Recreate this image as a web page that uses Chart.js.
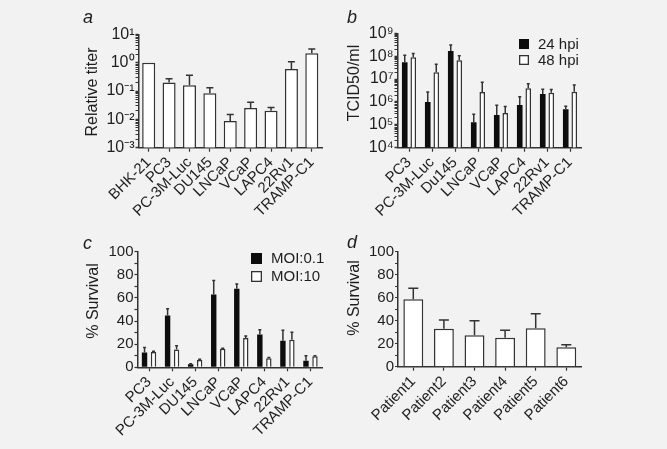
<!DOCTYPE html>
<html><head><meta charset="utf-8">
<script src="https://cdn.jsdelivr.net/npm/chart.js@4.4.0/dist/chart.umd.min.js"></script>
<style>
html,body{margin:0;padding:0;background:#f2f2f2;width:667px;height:449px;overflow:hidden}
canvas{position:absolute}
</style></head><body>
<canvas id="ca"></canvas><canvas id="cb"></canvas><canvas id="cc"></canvas><canvas id="cd"></canvas>
<script>
// ---- Panel a: relative titer (log) ----
const aCategories = ['BHK-21','PC3','PC-3M-Luc','DU145','LNCaP','VCaP','LAPC4','22Rv1','TRAMP-C1'];
const aValues     = [1.0, 0.20, 0.16, 0.083, 0.0088, 0.025, 0.020, 0.60, 2.15];
const aUpper      = [null, 0.27, 0.36, 0.13, 0.015, 0.040, 0.026, 1.08, 3.05];

// ---- Panel b: TCID50/ml (log) ----
const bCategories = ['PC3','PC-3M-Luc','Du145','LNCaP','VCaP','LAPC4','22Rv1','TRAMP-C1'];
const b24hpi      = [5.4e7, 1.0e6, 1.7e8, 1.3e5, 2.7e5, 7.4e5, 2.2e6, 4.8e5];
const b24Upper    = [1.1e8, 2.7e6, 3.1e8, 2.9e5, 7.2e5, 1.7e6, 3.6e6, 6.5e5];
const b48hpi      = [9.0e7, 2.0e7, 6.6e7, 2.7e6, 3.3e5, 4.0e6, 2.5e6, 2.8e6];
const b48Upper    = [1.3e8, 4.4e7, 1.05e8, 7.2e6, 6.3e5, 6.3e6, 3.5e6, 5.5e6];

// ---- Panel c: % survival by MOI ----
const cCategories = ['PC3','PC-3M-Luc','DU145','LNCaP','VCaP','LAPC4','22Rv1','TRAMP-C1'];
const cMoi01      = [12.9, 44.8, 2.6, 63, 68, 28.4, 23, 5.7];
const cMoi01Err   = [4.3, 5.8, 0.4, 12, 4, 4.1, 9, 4.3];
const cMoi10      = [13.2, 15.3, 6.3, 16, 25.3, 7.9, 23.8, 9.5];
const cMoi10Err   = [0.6, 3.4, 0.6, 0.5, 1.7, 0.5, 6.6, 0.5];

// ---- Panel d: % survival patients ----
const dCategories = ['Patient1','Patient2','Patient3','Patient4','Patient5','Patient6'];
const dValues     = [58.6, 33, 27.3, 25.2, 33.4, 16.9];
const dErr        = [9.6, 7.6, 12.7, 6.5, 12.6, 2.2];

const logTicksA = [-3, 1];
const logTicksB = [4, 9];
const linTicks  = [0, 100, 10, 20]; // min, max, minor step, labelled step

const FONT = "'Liberation Sans', Arial, Helvetica, sans-serif";
const INK = '#1e1e1e';
const AXIS = '#333';

function sup(n){const m={'-':'\u207B','0':'\u2070','1':'\u00B9','2':'\u00B2','3':'\u00B3','4':'\u2074','5':'\u2075','6':'\u2076','7':'\u2077','8':'\u2078','9':'\u2079'};return String(n).split('').map(c=>m[c]).join('');}

const errorBarsPlugin = {
  id:'errorBars',
  afterDatasetsDraw(chart, args, opts){
    const ctx = chart.ctx, y = chart.scales.y;
    ctx.save();
    ctx.strokeStyle = AXIS; ctx.lineWidth = 1.5;
    (opts.upper||[]).forEach((arr, di) => {
      const meta = chart.getDatasetMeta(di);
      arr.forEach((u, j) => {
        if (u == null) return;
        const el = meta.data[j];
        const yt = y.getPixelForValue(u);
        ctx.beginPath();
        ctx.moveTo(el.x, el.y); ctx.lineTo(el.x, yt);
        ctx.moveTo(el.x - opts.cap/2, yt); ctx.lineTo(el.x + opts.cap/2, yt);
        ctx.stroke();
      });
    });
    ctx.restore();
  }
};

const textsPlugin = {
  id:'texts',
  afterDraw(chart, args, opts){
    const ctx = chart.ctx;
    (opts.items||[]).forEach(t => {
      ctx.save();
      ctx.translate(t.x - opts.ox, t.y - opts.oy);
      if (t.rot) ctx.rotate(t.rot);
      ctx.font = t.font; ctx.fillStyle = INK;
      ctx.textAlign = t.align || 'left'; ctx.textBaseline = t.baseline || 'alphabetic';
      ctx.fillText(t.text, 0, 0);
      ctx.restore();
    });
  }
};

const boxLegendPlugin = {
  id:'boxLegend',
  afterDraw(chart, args, opts){
    if (!opts.x) return;
    const ctx = chart.ctx;
    chart.data.datasets.forEach((ds, i) => {
      const bx = opts.x - opts.ox, by = opts.y - opts.oy + i*opts.dy;
      ctx.save();
      ctx.fillStyle = ds.backgroundColor;
      ctx.fillRect(bx, by, opts.size, opts.size);
      if (ds.borderWidth) { ctx.strokeStyle = AXIS; ctx.lineWidth = 1.3; ctx.strokeRect(bx+0.65, by+0.65, opts.size-1.3, opts.size-1.3); }
      ctx.fillStyle = INK; ctx.font = '15px ' + FONT;
      ctx.textAlign = 'left'; ctx.textBaseline = 'middle';
      ctx.fillText(ds.label, opts.tx - opts.ox, by + opts.size/2 + 0.5);
      ctx.restore();
    });
  }
};

function logScale(range){
  const [lo, hi] = range;
  return {
    type:'logarithmic', min: Math.pow(10, lo), max: Math.pow(10, hi),
    afterBuildTicks(s){
      const t = [];
      for (let e = lo; e <= hi; e++) {
        for (let k = 1; k <= 9; k++) {
          if (e === hi && k > 1) break;
          t.push({value: k * Math.pow(10, e), major: k === 1});
        }
      }
      s.ticks = t;
    },
    ticks:{autoSkip:false, padding:1, color:INK, font:{family:FONT, size:16},
      callback(v){ const l = Math.log10(v); const r = Math.round(l); return Math.abs(l - r) < 1e-6 ? '10' + sup(r) : ''; }},
    grid:{drawOnChartArea:false, tickLength:3, tickColor:AXIS, tickWidth:(c)=> (c.tick && c.tick.major) ? 1.5 : 1},
    border:{display:true, color:AXIS, width:1.5}
  };
}
function linScale(){
  const [mn, mx, step, lab] = linTicks;
  return {
    type:'linear', min:mn, max:mx,
    ticks:{stepSize:step, autoSkip:false, padding:1, color:INK, font:{family:FONT, size:15},
      callback(v){ return (v % lab === 0) ? String(v) : ''; }},
    grid:{drawOnChartArea:false, tickLength:3, tickColor:AXIS, tickWidth:1.2},
    border:{display:true, color:AXIS, width:1.5}
  };
}

function panel(id, rect, area, cfg){
  const cv = document.getElementById(id);
  cv.style.left = rect.x + 'px'; cv.style.top = rect.y + 'px';
  cv.width = rect.w; cv.height = rect.h;
  cv.style.width = rect.w + 'px'; cv.style.height = rect.h + 'px';
  const yW = area.l - rect.x;
  const xH = rect.y + rect.h - area.b;
  const yScale = cfg.y;
  yScale.afterFit = (s) => { s.width = yW; };
  new Chart(cv, {
    type:'bar',
    data:{labels: cfg.labels, datasets: cfg.datasets},
    options:{
      responsive:false, animation:false, devicePixelRatio:1,
      layout:{padding:{left:0, top: area.t - rect.y, right: rect.x + rect.w - area.r, bottom:0}},
      plugins:{
        legend:{display:false}, tooltip:{enabled:false},
        errorBars:{upper: cfg.upper, cap: cfg.cap},
        texts:{items: cfg.texts, ox: rect.x, oy: rect.y},
        boxLegend: Object.assign({ox: rect.x, oy: rect.y}, cfg.legend || {})
      },
      scales:{
        x:{type:'category', offset:true,
          grid:{display:true, drawOnChartArea:false, drawTicks:true, tickLength:4, tickColor:AXIS, tickWidth:1.2, offset:false},
          border:{display:true, color:AXIS, width:1.5},
          ticks:{color:INK, font:{family:FONT, size:15}, minRotation:45, maxRotation:45, autoSkip:false, padding:2},
          afterFit(s){ s.height = xH; }
        },
        y: yScale
      }
    },
    plugins:[errorBarsPlugin, textsPlugin, boxLegendPlugin]
  });
}

const whiteBar = {backgroundColor:'#ffffff', borderColor:AXIS, borderWidth:1.5};
const blackBar = {backgroundColor:'#0d0d0d', borderColor:'#0d0d0d', borderWidth:0};
const titleFont = '16px ' + FONT;
const letterFont = 'italic 18px ' + FONT;

panel('ca', {x:0, y:0, w:333, h:225}, {l:138.5, t:34.4, r:322, b:147.7}, {
  labels: aCategories,
  datasets:[Object.assign({label:'Relative titer', data:aValues, categoryPercentage:1, barPercentage:0.64}, whiteBar)],
  upper:[aUpper], cap:7,
  y: logScale(logTicksA),
  texts:[
    {text:'a', x:83, y:23, font:letterFont},
    {text:'Relative titer', x:93, y:92, rot:-Math.PI/2, align:'center', baseline:'middle', font:titleFont}
  ]
});

panel('cb', {x:333, y:0, w:334, h:225}, {l:397.5, t:33.3, r:581.5, b:147.7}, {
  labels: bCategories,
  datasets:[
    Object.assign({label:'24 hpi', data:b24hpi, categoryPercentage:0.74, barPercentage:0.66}, blackBar),
    Object.assign({label:'48 hpi', data:b48hpi, categoryPercentage:0.74, barPercentage:0.66}, whiteBar)
  ],
  upper:[b24Upper, b48Upper], cap:3,
  y: logScale(logTicksB),
  legend:{x:519, y:39, dy:16, size:10, tx:538},
  texts:[
    {text:'b', x:347, y:23, font:letterFont},
    {text:'TCID50/ml', x:355, y:83, rot:-Math.PI/2, align:'center', baseline:'middle', font:titleFont}
  ]
});

panel('cc', {x:0, y:225, w:333, h:224}, {l:137.5, t:251.7, r:322, b:367.3}, {
  labels: cCategories,
  datasets:[
    Object.assign({label:'MOI:0.1', data:cMoi01, categoryPercentage:0.78, barPercentage:0.6}, blackBar),
    Object.assign({label:'MOI:10', data:cMoi10, categoryPercentage:0.78, barPercentage:0.6}, whiteBar)
  ],
  upper:[cMoi01.map((v,i)=>v+cMoi01Err[i]), cMoi10.map((v,i)=>v+cMoi10Err[i])], cap:3,
  y: linScale(),
  legend:{x:251, y:253, dy:18, size:11, tx:271},
  texts:[
    {text:'c', x:83, y:249, font:letterFont},
    {text:'% Survival', x:94, y:301, rot:-Math.PI/2, align:'center', baseline:'middle', font:titleFont}
  ]
});

panel('cd', {x:333, y:225, w:334, h:224}, {l:398, t:251.7, r:581.6, b:366.7}, {
  labels: dCategories,
  datasets:[Object.assign({label:'% Survival', data:dValues, categoryPercentage:1, barPercentage:0.65}, whiteBar)],
  upper:[dValues.map((v,i)=>v+dErr[i])], cap:10,
  y: linScale(),
  texts:[
    {text:'d', x:347, y:248, font:letterFont},
    {text:'% Survival', x:355, y:298, rot:-Math.PI/2, align:'center', baseline:'middle', font:titleFont}
  ]
});
</script>
</body></html>
